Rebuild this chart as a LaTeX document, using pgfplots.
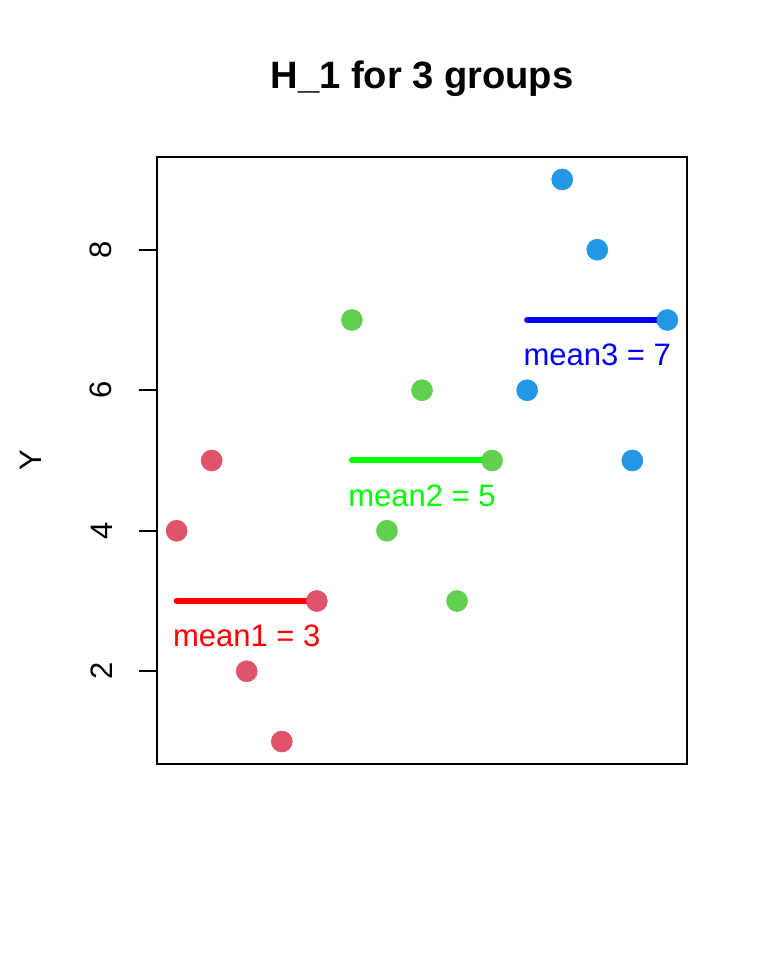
\documentclass[border=0pt]{standalone}
\usepackage{pgfplots}
\pgfplotsset{compat=1.18}
\usepackage{fontspec}
\setmainfont{Liberation Sans}
\definecolor{rred}{HTML}{DF536B}
\definecolor{rgreen}{HTML}{61D04F}
\definecolor{rblue}{HTML}{2297E6}
\begin{document}
\begin{tikzpicture}
\begin{axis}[
  at={(117.75bp,147bp)}, anchor=south west,
  scale only axis, width=397.5bp, height=455.25bp,
  xmin=0.44, xmax=15.56, ymin=0.68, ymax=9.32,
  xtick=\empty, ytick={2,4,6,8}, ytick pos=left,
  tick align=outside, major tick length=13.5bp,
  axis line style={line width=1.5bp},
  every tick/.style={black, line width=1.5bp},
  /pgf/number format/assume math mode=true,
  ticklabel style={font=\fontsize{23.25bp}{28bp}\selectfont},
  yticklabel style={rotate=90, anchor=south, inner sep=0pt},
  yticklabel shift=20bp,
  clip=false,
]
\addplot[only marks, mark=*, mark size=7.9bp, draw=rred, fill=rred] coordinates {(1,4)(2,5)(3,2)(4,1)(5,3)};
\addplot[only marks, mark=*, mark size=7.9bp, draw=rgreen, fill=rgreen] coordinates {(6,7)(7,4)(8,6)(9,3)(10,5)};
\addplot[only marks, mark=*, mark size=7.9bp, draw=rblue, fill=rblue] coordinates {(11,6)(12,9)(13,8)(14,5)(15,7)};
\addplot[no marks, red, line width=4.5bp, line cap=round] coordinates {(1,3)(5,3)};
\addplot[no marks, green, line width=4.5bp, line cap=round] coordinates {(6,5)(10,5)};
\addplot[no marks, blue, line width=4.5bp, line cap=round] coordinates {(11,7)(15,7)};
\node[red, inner sep=0pt, font=\fontsize{23.25bp}{28bp}\selectfont] at (axis cs:3,2.5) {mean1 = 3};
\node[green, inner sep=0pt, font=\fontsize{23.25bp}{28bp}\selectfont] at (axis cs:8,4.5) {mean2 = 5};
\node[blue, inner sep=0pt, font=\fontsize{23.25bp}{28bp}\selectfont] at (axis cs:13,6.5) {mean3 = 7};
\end{axis}
\node[anchor=base, inner sep=0pt, font=\bfseries\fontsize{28.6bp}{34bp}\selectfont] at (316.5bp,653.6bp) {H\_1 for 3 groups};
\node[rotate=90, anchor=base, inner sep=0pt, font=\fontsize{23.25bp}{28bp}\selectfont] at (31bp,374.6bp) {Y};
\path[use as bounding box] (0,0) rectangle (576bp,720bp);
\end{tikzpicture}
\end{document}
